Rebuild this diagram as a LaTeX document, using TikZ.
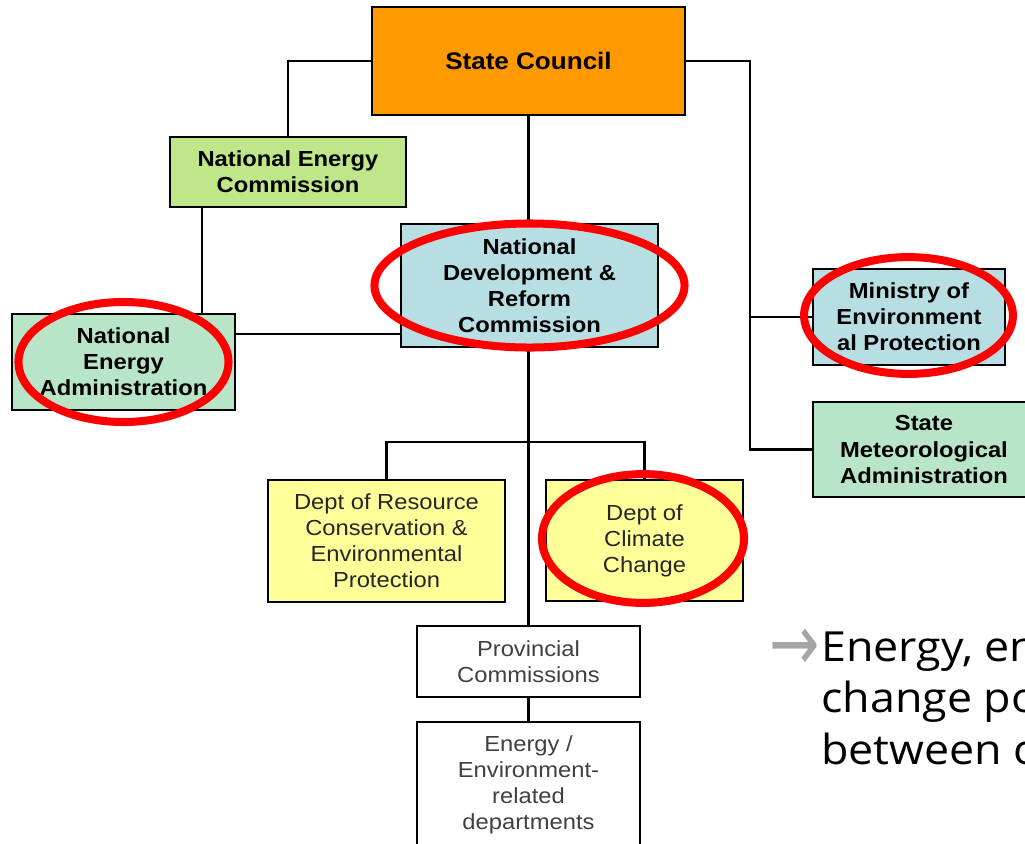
\documentclass[tikz,border=0pt]{standalone}
\usepackage{fontspec}
\setmainfont{Liberation Sans}[FakeStretch=1.09]
\newfontfamily\slidefont{Open Sans}[FakeStretch=1.08]
\newfontfamily\arrowfont{DejaVu Sans}
\usepackage{tikz}
\usetikzlibrary{shapes.geometric}
\definecolor{councilorange}{RGB}{255,153,0}
\definecolor{necgreen}{RGB}{192,230,138}
\definecolor{ndrcblue}{RGB}{183,222,226}
\definecolor{neagreen}{RGB}{184,228,200}
\definecolor{deptyellow}{RGB}{255,255,153}
\definecolor{arrowgrey}{RGB}{165,165,165}
\tikzstyle{boldbox} = [rectangle, draw=black, line width=2pt, inner sep=0pt, align=center, text centered, font=\bfseries\fontsize{15.5}{18.5}\selectfont]
\tikzstyle{plainbox} = [rectangle, draw=black, line width=2pt, inner sep=0pt, align=center, text centered, text=black!85, font=\fontsize{15.5}{18.5}\selectfont]
\tikzstyle{line} = [line width=2pt]
\tikzstyle{redring} = [draw=red, line width=5.7pt]
\begin{document}
\begin{tikzpicture}[x=0.025cm, y=-0.025cm]

	\clip (0,0) rectangle (1025,843);

	\node (sc) [boldbox, fill=councilorange, minimum width=7.825cm, minimum height=2.7cm, font=\bfseries\fontsize{17}{20}\selectfont] at (528.5,61) {State Council};
	\node (nec) [boldbox, fill=necgreen, minimum width=5.9cm, minimum height=1.75cm] at (288,172) {National Energy\\Commission};
	\node (ndrc) [boldbox, fill=ndrcblue, minimum width=6.425cm, minimum height=3.075cm] at (529.5,285.5) {National\\Development \&\\Reform\\Commission};
	\node (nea) [boldbox, fill=neagreen, minimum width=5.575cm, minimum height=2.4cm] at (123.5,362) {National\\Energy\\Administration};
	\node (mep) [boldbox, fill=ndrcblue, minimum width=4.8cm, minimum height=2.4cm] at (909,317) {Ministry of\\Environment\\al Protection};
	\node (sma) [boldbox, fill=neagreen, minimum width=5.55cm, minimum height=2.375cm] at (924,449.5) {State\\Meteorological\\Administration};
	\node (drc) [plainbox, fill=deptyellow, minimum width=5.925cm, minimum height=3.05cm] at (386.5,541) {Dept of Resource\\Conservation \&\\Environmental\\Protection};
	\node (dcc) [plainbox, fill=deptyellow, minimum width=4.925cm, minimum height=3.025cm] at (644.5,540.5) {Dept of\\Climate\\Change};
	\node (pc) [plainbox, fill=white, text=black!75, minimum width=5.575cm, minimum height=1.775cm] at (528.5,661.5) {Provincial\\Commissions};
	\node (eed) [plainbox, fill=white, text=black!75, minimum width=5.575cm, minimum height=3.15cm] at (528.5,785) {Energy /\\Environment-\\related\\departments};

	\coordinate (trunk) at (750,0);
	\coordinate (necdrop) at (202,0);
	\coordinate (nealink) at (0,334);
	\coordinate (split) at (0,442);

	\draw [line] (sc.west) -| (nec.north);
	\draw [line] (sc.south) -- (sc.south |- ndrc.north);
	\draw [line] (sc.east) -| (trunk |- sma.west) -- (sma.west);
	\draw [line] (trunk |- mep.west) -- (mep.west);
	\draw [line] (nec.south -| necdrop) -- (nea.north -| necdrop);
	\draw [line] (nea.east |- nealink) -- (ndrc.west |- nealink);
	\draw [line] (ndrc.south -| pc.north) -- (pc.north);
	\draw [line] (drc.north) -- (drc.north |- split) -- (dcc.north |- split) -- (dcc.north);
	\draw [line] (pc.south) -- (eed.north);

	\draw [redring] (ndrc.center) ellipse [x radius=3.875cm, y radius=1.55cm];
	\draw [redring] (nea.center) ellipse [x radius=2.625cm, y radius=1.5cm];
	\draw [redring] (908.5,315.5) ellipse [x radius=2.61cm, y radius=1.46cm];
	\draw [redring] (643,538.5) ellipse [x radius=2.525cm, y radius=1.61cm];

	\node (note) [anchor=base west, align=left, inner sep=0pt, font=\slidefont\fontsize{29.5}{36.3}\selectfont] at (821,764) {\llap{\raisebox{-6pt}{\scalebox{1.45}[1.9]{\arrowfont\color{arrowgrey}→}}\hspace{1pt}}Energy, en\\change po\\between c};

\end{tikzpicture}
\end{document}
